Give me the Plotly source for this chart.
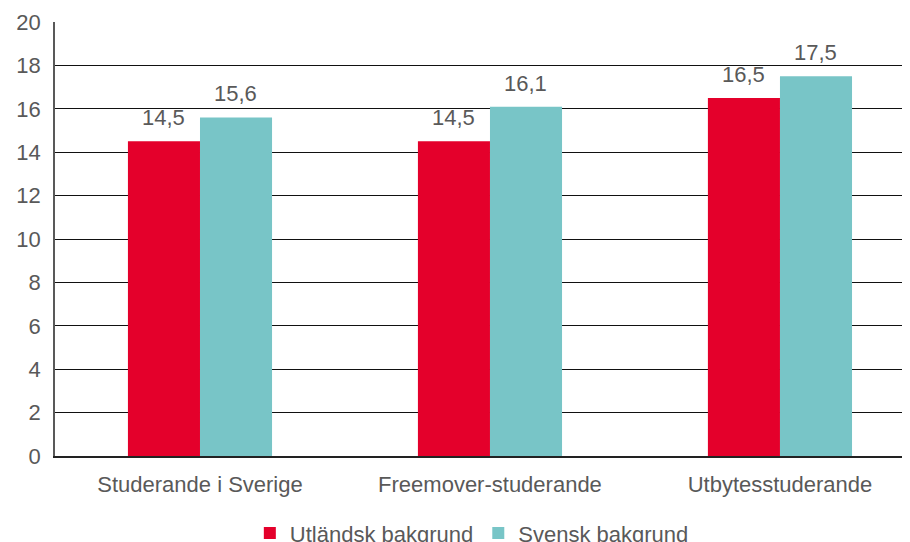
import plotly.graph_objects as go

# data
categories = ["Studerande i Sverige", "Freemover-studerande", "Utbytesstuderande"]
utlandsk = [14.5, 14.5, 16.5]
svensk = [15.6, 16.1, 17.5]
y_ticks = [0, 2, 4, 6, 8, 10, 12, 14, 16, 18, 20]

font = "Liberation Sans, Arial, sans-serif"
grey = "#595959"
fs = 22

fig = go.Figure()
fig.add_trace(go.Bar(x=categories, y=utlandsk, name="Utländsk bakgrund",
                     marker_color="#E4002B", marker_line_width=0))
fig.add_trace(go.Bar(x=categories, y=svensk, name="Svensk bakgrund",
                     marker_color="#78C5C7", marker_line_width=0))

# value labels above each bar (shifted half a bar left/right inside the group)
for vals, shift in [(utlandsk, -36), (svensk, 36)]:
    for cat, v in zip(categories, vals):
        fig.add_annotation(x=cat, y=v, xref="x", yref="y", text=f"{v:.1f}".replace(".", ","),
                           showarrow=False, xshift=shift, yanchor="bottom", yshift=9,
                           font=dict(size=fs, color=grey, family=font))

# page body has an 8px margin, so margins are offset to match
fig.update_layout(
    width=910, height=542,
    margin=dict(l=47, r=0, t=14, b=94),
    plot_bgcolor="white", paper_bgcolor="white",
    barmode="group", bargap=0.503, bargroupgap=0,
    font=dict(family=font, size=fs, color=grey),
    legend=dict(orientation="h", x=0.483, xanchor="center", xref="paper",
                y=0.031, yanchor="middle", yref="container",
                font=dict(size=fs, color=grey), itemwidth=30, traceorder="normal"),
)
fig.update_xaxes(range=[-0.5, 2.476], showline=True, linecolor="#222", linewidth=1.5,
                 ticks="", tickfont=dict(size=fs, color=grey), showgrid=False,
                 automargin=False, ticklabelstandoff=8)
fig.update_yaxes(range=[0, 20], tickvals=y_ticks, showgrid=True, gridcolor="#111",
                 gridwidth=1.3, showline=True, linecolor=grey, linewidth=1.5,
                 ticks="", tickfont=dict(size=fs, color=grey), zeroline=False,
                 ticklabelstandoff=8, automargin=False)

fig.write_html("out.html")
